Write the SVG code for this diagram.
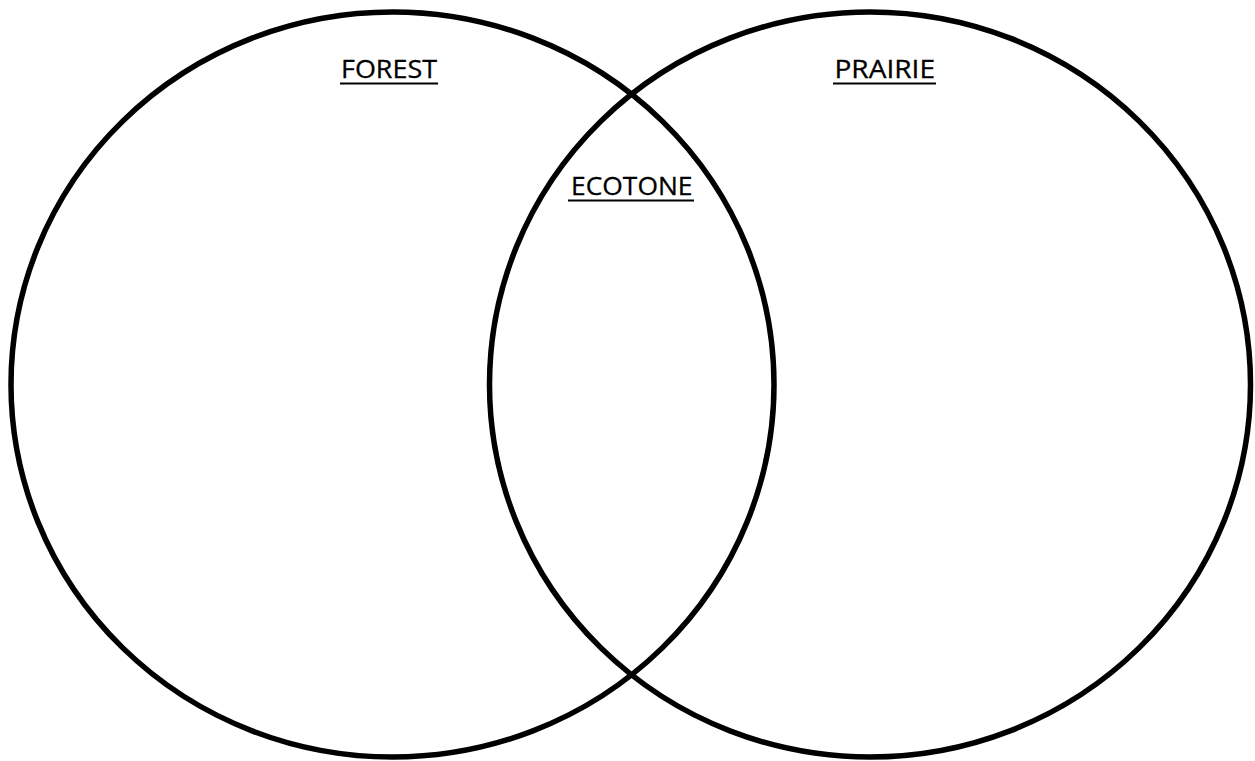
<svg xmlns="http://www.w3.org/2000/svg" width="1255" height="761" viewBox="0 0 1255 761">
<style>
.c{fill:none;stroke:#000;stroke-width:5.5}
.t{font-family:"Open Sans","Liberation Sans",sans-serif;font-size:25.5px;fill:#000;stroke:#000;stroke-width:0.3}
.u{stroke:#000;stroke-width:2}
</style>
<rect width="1255" height="761" fill="#fff"/>
<g id="forest">
<ellipse class="c" cx="392.5" cy="384.5" rx="381.5" ry="372.5"/>
<text class="t" x="341" y="78" textLength="96" lengthAdjust="spacingAndGlyphs">FOREST</text>
<line class="u" x1="340" y1="83.5" x2="438" y2="83.5"/>
</g>
<g id="prairie">
<ellipse class="c" cx="870" cy="384.5" rx="380.5" ry="372.5"/>
<text class="t" x="834.5" y="78" textLength="100.5" lengthAdjust="spacingAndGlyphs">PRAIRIE</text>
<line class="u" x1="833" y1="83.5" x2="936" y2="83.5"/>
</g>
<g id="ecotone">
<text class="t" x="571" y="195" textLength="121.5" lengthAdjust="spacingAndGlyphs">ECOTONE</text>
<line class="u" x1="568" y1="200.5" x2="694" y2="200.5"/>
</g>
<g id="connectors"/>
</svg>
